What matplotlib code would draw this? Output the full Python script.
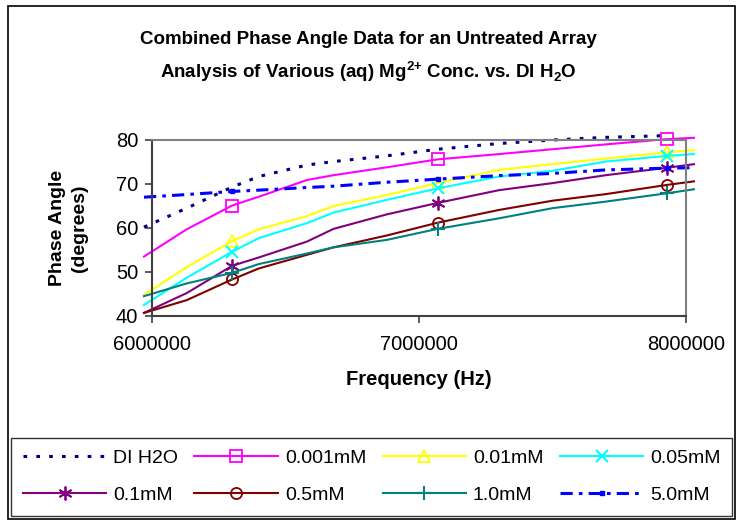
import matplotlib
matplotlib.use('Agg')
import matplotlib.pyplot as plt
from matplotlib.patches import Rectangle

plt.rcParams['font.family'] = ['Liberation Sans', 'DejaVu Sans']
plt.rcParams['mathtext.fontset'] = 'custom'
plt.rcParams['mathtext.rm'] = 'Liberation Sans'
plt.rcParams['mathtext.bf'] = 'Liberation Sans:bold'

# frequencies (Hz)
freq = [5970000, 6130000, 6300000, 6400000, 6580000, 6680000, 6880000,
        7070000, 7300000, 7500000, 7700000, 7930000, 8030000]
mark_idx = [2, 7, 11]

di_h2o = [60.2, 64.5, 69.3, 71.7, 74.3, 75.1, 76.4, 77.9, 79.2, 80.0, 80.6, 81.0]
c0001 = [53.5, 59.7, 65.1, 67.1, 70.9, 72.0, 73.8, 75.6, 76.8, 77.9, 79.0, 80.2, 80.5]
c001 = [44.8, 51.1, 57.0, 59.7, 62.7, 65.0, 67.5, 70.2, 73.2, 74.5, 75.8, 77.2, 77.7]
c005 = [42.5, 48.7, 54.6, 57.7, 61.1, 63.5, 66.4, 69.0, 71.7, 73.0, 75.1, 76.4, 76.8]
c01 = [40.7, 45.2, 51.4, 53.3, 56.9, 59.8, 63.1, 65.7, 68.6, 70.2, 72.0, 73.7, 74.5]
c05 = [40.7, 43.6, 48.3, 50.8, 53.9, 55.6, 58.3, 61.2, 64.1, 66.2, 67.7, 69.8, 70.6]
c10 = [44.5, 47.4, 49.8, 51.8, 54.2, 55.6, 57.3, 59.8, 62.2, 64.5, 66.0, 67.9, 68.8]
c50 = [67.0, 67.6, 68.3, 68.6, 69.2, 69.5, 70.4, 71.1, 71.9, 72.4, 73.2, 73.6, 73.7]

xticks = [6000000, 7000000, 8000000]
xtick_labels = ['6000000', '7000000', '8000000']
yticks = [40, 50, 60, 70, 80]

fig = plt.figure(figsize=(7.36, 5.21), dpi=100)
ax = fig.add_axes([0.2065, 0.3935, 0.7255, 0.3378])

h = {}
h['DI H2O'], = ax.plot(freq[:len(di_h2o)], di_h2o, color='#000080', lw=2.2,
                       linestyle=(0, (1.2, 3.0)), clip_on=False, label='DI H2O')
h['0.001mM'], = ax.plot(freq, c0001, color='#FF00FF', lw=1.5, marker='s', ms=8,
                        mfc='none', mew=1.3, markevery=mark_idx, clip_on=False, label='0.001mM')
h['0.01mM'], = ax.plot(freq, c001, color='#FFFF00', lw=1.5, marker='^', ms=8,
                       mfc='none', mew=1.3, markevery=mark_idx, clip_on=False, label='0.01mM')
h['0.05mM'], = ax.plot(freq, c005, color='#00FFFF', lw=1.5, marker='x', ms=9,
                       mew=1.5, markevery=mark_idx, clip_on=False, label='0.05mM')
h['0.1mM'], = ax.plot(freq, c01, color='#800080', lw=1.5, marker=(6, 2, 0), ms=10,
                      mew=1.3, markevery=mark_idx, clip_on=False, label='0.1mM')
h['0.5mM'], = ax.plot(freq, c05, color='#800000', lw=1.5, marker='o', ms=8,
                      mfc='none', mew=1.3, markevery=mark_idx, clip_on=False, label='0.5mM')
h['1.0mM'], = ax.plot(freq, c10, color='#008080', lw=1.5, marker='+', ms=10,
                      mew=1.5, markevery=mark_idx, clip_on=False, label='1.0mM')
h['5.0mM'], = ax.plot(freq, c50, color='#0000FF', lw=2.2, linestyle=(0, (4, 2, 1.2, 2)),
                      marker='s', ms=3.5, markevery=mark_idx, clip_on=False, label='5.0mM')

ax.set_xlim(6000000, 8000000)
ax.set_ylim(40, 80)
ax.set_xticks(xticks)
ax.set_xticklabels(xtick_labels)
ax.set_yticks(yticks)
ax.tick_params(labelsize=14.5, direction='out', length=5, width=1.2, color='#404040', pad=5)
ax.tick_params(axis='x', pad=9)
for s in ['left', 'bottom']:
    ax.spines[s].set_color('#404040')
    ax.spines[s].set_linewidth(1.5)
for s in ['top', 'right']:
    ax.spines[s].set_color('#808080')
    ax.spines[s].set_linewidth(1.5)

ax.set_xlabel('Frequency (Hz)', fontsize=14.5, fontweight='bold', labelpad=11)
ax.set_ylabel('Phase Angle\n(degrees)', fontsize=14, fontweight='bold', labelpad=20,
              linespacing=1.4)

fig.text(0.5, 0.925, 'Combined Phase Angle Data for an Untreated Array',
         ha='center', va='center', fontsize=13.5, fontweight='bold')
fig.text(0.5, 0.862, r'Analysis of Various (aq) Mg$^{\mathbf{2{+}}}$ Conc. vs. DI H$_{\mathbf{2}}$O',
         ha='center', va='center', fontsize=13.5, fontweight='bold')

# outer chart border
fig.patches.append(Rectangle((0.011, 0.003), 0.987, 0.985, transform=fig.transFigure,
                             fill=False, edgecolor='black', lw=1.2))

# legend filled row-wise like the reference
order = ['DI H2O', '0.1mM', '0.001mM', '0.5mM', '0.01mM', '1.0mM', '0.05mM', '5.0mM']
leg = fig.legend([h[k] for k in order], order, loc='lower left', ncol=4, mode='expand',
                 bbox_to_anchor=(0.015, 0.01, 0.98, 0.145), fontsize=14,
                 handlelength=4.3, handletextpad=0.35, columnspacing=0.6,
                 borderaxespad=0, frameon=True, fancybox=False, edgecolor='black',
                 borderpad=0.6, labelspacing=1.0)
leg.get_frame().set_linewidth(1.0)

fig.savefig('out.png', dpi=100)
